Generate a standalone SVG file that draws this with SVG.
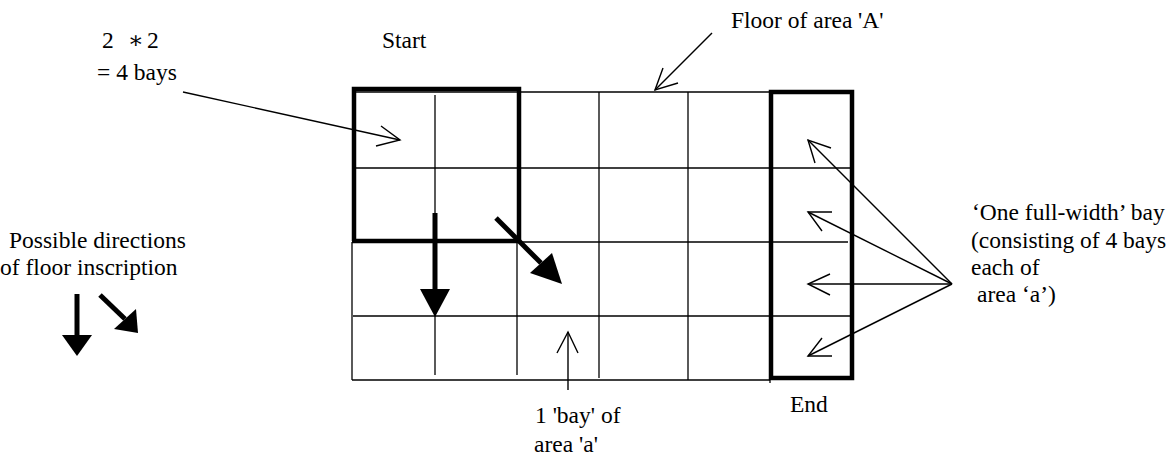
<svg xmlns="http://www.w3.org/2000/svg" width="1175" height="456" viewBox="0 0 1175 456">
<style>
text{font-family:'Liberation Serif','DejaVu Serif',serif;font-size:23.5px;fill:#000}
.thin{stroke:#000;stroke-width:1.3;fill:none}
.thick{stroke:#000;stroke-width:4.5;fill:none}
.ptr{stroke:#000;stroke-width:1.4;fill:none}
.shaft{stroke:#000;stroke-width:5;fill:none}
.head{fill:#000;stroke:none}
</style>
<rect width="1175" height="456" fill="#fff"/>
<g id="grid">
<line class="thin" x1="352" y1="92" x2="770" y2="92"/>
<line class="thin" x1="356" y1="168" x2="852" y2="168"/>
<line class="thin" x1="519" y1="242" x2="848" y2="242"/>
<line class="thin" x1="353" y1="316" x2="852" y2="316"/>
<line class="thin" x1="352" y1="380" x2="770" y2="380"/>
<line class="thin" x1="352" y1="242" x2="352" y2="380"/>
<line class="thin" x1="435" y1="95" x2="435" y2="375"/>
<line class="thin" x1="517" y1="242" x2="517" y2="375"/>
<line class="thin" x1="599" y1="92" x2="599" y2="378"/>
<line class="thin" x1="688" y1="92" x2="688" y2="380"/>
<line class="thin" x1="770" y1="378" x2="770" y2="383"/>
</g>
<g id="start-block">
<path class="thick" d="M354 241 V89 H519 V241 H352"/>
</g>
<g id="end-bay">
<rect class="thick" x="771" y="92" width="81" height="286"/>
</g>
<g id="direction-arrows">
<line class="shaft" x1="435" y1="213" x2="435" y2="290"/>
<polygon class="head" points="420,289 450,289 435,317"/>
<line class="shaft" x1="496" y1="218" x2="541" y2="263"/>
<polygon class="head" points="530,273 552,253 562,284"/>
<line class="shaft" x1="77" y1="294" x2="77" y2="336"/>
<polygon class="head" points="62,335 92,335 77,356"/>
<line class="shaft" x1="100" y1="295" x2="125" y2="319"/>
<polygon class="head" points="114,329 136,309 138,333"/>
</g>
<g id="connectors">
<line class="ptr" x1="183" y1="92" x2="400" y2="140"/>
<polyline class="ptr" points="376,146 400,140 381,126"/>
<line class="ptr" x1="712" y1="33" x2="655" y2="90"/>
<polyline class="ptr" points="663,68 655,90 678,83"/>
<line class="ptr" x1="568" y1="390" x2="568" y2="332"/>
<polyline class="ptr" points="557,353 568,332 578,353"/>
<line class="ptr" x1="952" y1="284" x2="808" y2="140"/>
<polyline class="ptr" points="831,148 808,140 815,163"/>
<line class="ptr" x1="952" y1="284" x2="808" y2="212"/>
<polyline class="ptr" points="832,212 808,212 822,231"/>
<line class="ptr" x1="952" y1="284" x2="808" y2="284"/>
<polyline class="ptr" points="830,274 808,284 830,295"/>
<line class="ptr" x1="952" y1="284" x2="808" y2="356"/>
<polyline class="ptr" points="832,356 808,356 822,338"/>
</g>
<g id="labels">
<text><tspan x="102" y="48">2</tspan><tspan x="128" y="48">∗</tspan><tspan x="147" y="48">2</tspan></text>
<text x="97" y="80">= 4 bays</text>
<text x="382" y="48">Start</text>
<text x="731" y="28">Floor of area<tspan x="858">'A'</tspan></text>
<text x="9" y="248">Possible directions</text>
<text x="0" y="275">of floor inscription</text>
<text x="535" y="423">1 'bay' of</text>
<text x="534" y="452">area 'a'</text>
<text x="790" y="412">End</text>
<text x="972" y="220">‘One full-width’ bay</text>
<text x="971" y="248">(consisting of 4 bays</text>
<text x="971" y="275">each of</text>
<text x="977" y="302">area ‘a’)</text>
</g>
</svg>
